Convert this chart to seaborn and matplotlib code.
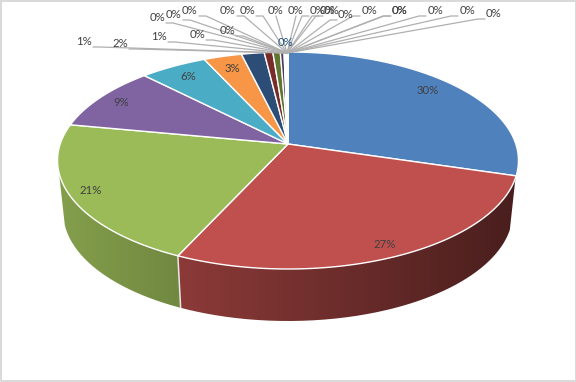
import numpy as np
import matplotlib
matplotlib.use("Agg")
import matplotlib.pyplot as plt
from matplotlib.path import Path
from matplotlib.patches import PathPatch
import seaborn as sns

# ---- data ----
slice_values = [29.65, 27.2, 21.15, 9.7, 5.45, 3.1, 1.85, 0.7, 0.6, 0.3, 0.05, 0.05, 0.05, 0.03, 0.02,
                0.01, 0.01, 0.01, 0.01, 0.01, 0.01, 0.01, 0.01, 0.01, 0.01, 0.01, 0.01]
big_labels = ["30%", "27%", "21%", "9%", "6%", "3%"]
small_labels = ["1%", "2%", "1%", "0%", "0%", "0%", "0%", "0%", "0%", "0%", "0%", "0%", "0%",
                "0%", "0%", "0%", "0%", "0%", "0%", "0%", "0%", "0%", "0%"]
slice_colors = ["#4f81bd", "#c0504d", "#9bbb59", "#8064a2", "#4bacc6", "#f79646", "#2c4d75",
                "#772c2a", "#5f7530", "#4d3b62", "#276a7c", "#b65708", "#729aca", "#cd7371",
                "#afc97a", "#9983b5", "#6fbdd1", "#f9ab6b", "#3a679c", "#9e3b38", "#7f9c40",
                "#664f83", "#358ea6", "#f27c1a", "#95b3d7", "#d99694", "#c3d69b"]

# ---- layout (pixels of the 576x382 picture) ----
big_label_xy = [(428, 91), (385, 245), (91, 190), (121, 103), (188, 77), (232, 69)]
small_label_xy = [(84, 41), (120, 43), (159, 36), (197, 34), (157, 17), (174, 14), (190, 10),
                  (227, 30), (228, 10), (247, 10), (276, 10), (296, 10), (318, 10), (328, 10),
                  (332, 10), (346, 14), (369, 10), (399, 10), (400, 10), (435, 10), (467, 10),
                  (494, 13), (286, 42)]
APEX = (288.0, 144.0)
B, K, C, DEPTH = 106.0, 0.152, 227.8, 52.0
RIM_SHRINK = 0.975
WALL_FROM, WALL_TO = 1.88, 4.45

def project(theta):
    x, y = np.sin(theta), np.cos(theta)
    w = 1 + K * y
    return APEX[0] + C * x / w, APEX[1] - B * y / w

def lower_x(x):
    return APEX[0] + (x - APEX[0]) * RIM_SHRINK

sns.set_theme(style="white")
plt.rcParams["font.family"] = ["Lato", "DejaVu Sans"]
fig = plt.figure(figsize=(5.76, 3.82), dpi=100, facecolor="white")
ax = fig.add_axes([0, 0, 1, 1])
ax.axis("off")
palette = sns.color_palette(slice_colors)

# picture frame
ax.plot([0.5, 0.5, 575.5, 575.5, 0.5], [0.5, 380.5, 380.5, 0.5, 0.5], color="#d9d9d9", lw=1.4, zorder=0)

fractions = np.array(slice_values) / np.sum(slice_values)
edges = np.concatenate([[0], np.cumsum(fractions)]) * 2 * np.pi

# side wall: a left-to-right shaded image clipped to each slice's wall outline
xs = np.arange(40, 540)
shade = 0.85 - (xs - 60) * 0.47 / 456
for i, col in enumerate(palette):
    a0, a1 = max(edges[i], WALL_FROM), min(edges[i + 1], WALL_TO)
    if a1 <= a0:
        continue
    th = np.linspace(a0, a1, 200)
    X, Y = project(th)
    outline = np.r_[np.c_[X, Y], np.c_[lower_x(X[::-1]), Y[::-1] + DEPTH], [[X[0], Y[0]]]]
    grad = np.clip(np.outer(shade, col), 0, 1)[None, :, :]
    im = ax.imshow(grad, extent=(xs[0], xs[-1], 345, 100), aspect="auto", zorder=2, interpolation="bilinear")
    patch = PathPatch(Path(outline), transform=ax.transData, facecolor="none", edgecolor="none")
    ax.add_patch(patch)
    im.set_clip_path(patch)
    if WALL_FROM < edges[i] < WALL_TO:
        xe, ye = project(edges[i])
        ax.plot([xe, lower_x(xe)], [ye, ye + DEPTH], color="#e8e8e8", lw=1.1, zorder=3)

# top faces
for i, col in enumerate(palette):
    a0, a1 = edges[i], edges[i + 1]
    th = np.linspace(a0, a1, max(3, int((a1 - a0) / 0.01)))
    X, Y = project(th)
    ax.fill(np.r_[APEX[0], X], np.r_[APEX[1], Y], facecolor=col, edgecolor="white", lw=1.0, zorder=4,
            joinstyle="round")

# percentage labels on the large slices
for s, (x, y) in zip(big_labels, big_label_xy):
    ax.text(x, y, s, ha="center", va="center", fontsize=8.2, color="#404040", zorder=8)

# leader lines and outside labels
focus = np.array([287.0, 53.0])
for s, (x, y) in zip(small_labels, small_label_xy):
    if not (y > 40 and abs(x - 286) < 5):
        if x < 270:
            sx, elbow = x + 9, x + 16
        elif x > 300:
            sx, elbow = x - 9, x - 16
        else:
            sx, elbow = x, x
        sy = y + 6
        ax.plot([sx, elbow, focus[0]], [sy, sy, focus[1]], color="#b0b0b0", lw=0.9, zorder=6)
    ax.text(x, y + 0.5, s, ha="center", va="center", fontsize=8.2,
            color="#1f4e79" if abs(x - 286) < 5 and y > 40 else "#404040", zorder=8)

ax.set_xlim(0, 576)
ax.set_ylim(382, 0)
fig.savefig("out.png", dpi=100, facecolor="white")
